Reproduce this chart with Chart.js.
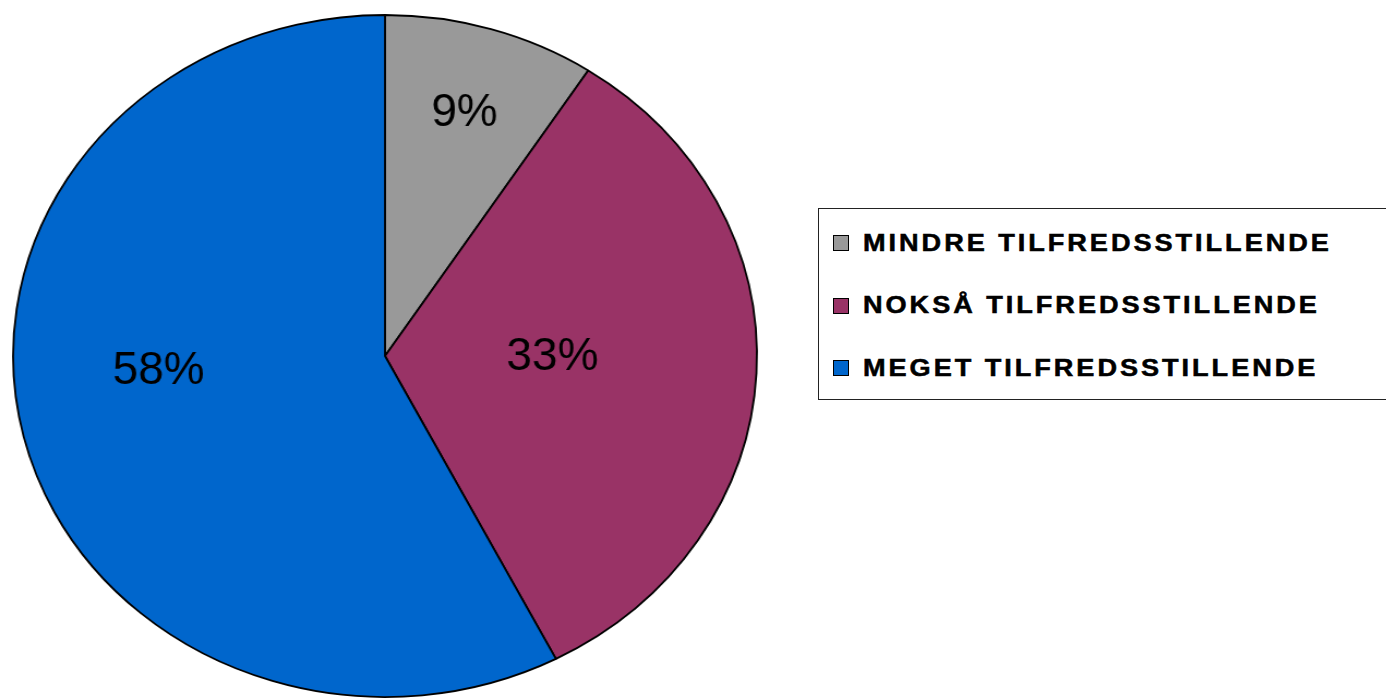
<!DOCTYPE html>
<html>
<head>
<meta charset="utf-8">
<script src="https://cdn.jsdelivr.net/npm/chart.js@4"></script>
<style>
  html, body { margin: 0; padding: 0; background: #fff; overflow: hidden; }
  #wrap { position: relative; width: 1386px; height: 698px; }
  #pie { position: absolute; left: 0; top: 0; }
  #legend {
    position: absolute; left: 818px; top: 208px; width: 600px; height: 192px;
    border: 1px solid #222; box-sizing: border-box; background: #fff;
    font-family: Arial, "Liberation Sans", Helvetica, sans-serif;
    font-size: 23px; color: #000;
  }
  .item { position: absolute; left: 14px; height: 24px; display: flex; align-items: center; white-space: nowrap; }
  .sw { width: 14px; height: 14px; border: 1px solid #000; margin-right: 14px; flex: none; }
  .txt { font-weight: 700; letter-spacing: 2.5px; display: inline-block; transform: scaleX(1.18); transform-origin: 0 50%; -webkit-text-stroke: 0.5px #000; }
</style>
</head>
<body>
<div id="wrap">
  <canvas id="pie" width="706" height="698" style="width:770px;height:698px;"></canvas>
  <div id="legend"></div>
</div>
<script>
const categories = ["MINDRE TILFREDSSTILLENDE", "NOKSÅ TILFREDSSTILLENDE", "MEGET TILFREDSSTILLENDE"];
const values = [9.2, 33.2, 57.6];
const valueLabels = ["9%", "33%", "58%"];
const colors = ["#999999", "#993366", "#0066CC"];
const labelRadius = [0.75, 0.45, 0.61];
const labelAngleShift = [0, -3, 10];

const STRETCH = 770 / 706;

// legend (HTML, built from arrays)
const leg = document.getElementById('legend');
categories.forEach((c, i) => {
  const d = document.createElement('div');
  d.className = 'item';
  d.style.top = (22 + i * 62.5) + 'px';
  const s = document.createElement('span');
  s.className = 'sw'; s.style.background = colors[i];
  const t = document.createElement('span');
  t.className = 'txt'; t.textContent = c;
  d.appendChild(s); d.appendChild(t);
  leg.appendChild(d);
});

const labelPlugin = {
  id: 'pctLabels',
  afterDatasetsDraw(chart) {
    const ctx = chart.ctx;
    const meta = chart.getDatasetMeta(0);
    meta.data.forEach((arc, i) => {
      const mid = (arc.startAngle + arc.endAngle) / 2 + labelAngleShift[i] * Math.PI / 180;
      const r = arc.outerRadius * labelRadius[i];
      const x = arc.x + r * Math.cos(mid);
      const y = arc.y + r * Math.sin(mid);
      ctx.save();
      ctx.translate(x, y);
      ctx.scale(1 / STRETCH, 1);
      ctx.font = '46px Arial, "Liberation Sans", sans-serif';
      ctx.fillStyle = '#000';
      ctx.textAlign = 'center';
      ctx.textBaseline = 'middle';
      ctx.fillText(valueLabels[i], 0, 2);
      ctx.restore();
    });
  }
};

new Chart(document.getElementById('pie'), {
  type: 'pie',
  data: {
    labels: categories,
    datasets: [{
      data: values,
      backgroundColor: colors,
      borderColor: '#000',
      borderWidth: 1.8,
      radius: 341
    }]
  },
  options: {
    responsive: false,
    animation: false,
    layout: { padding: { top: 15, bottom: 1, left: 0, right: 0 } },
    plugins: { legend: { display: false }, tooltip: { enabled: false } }
  },
  plugins: [labelPlugin]
});
</script>
</body>
</html>
